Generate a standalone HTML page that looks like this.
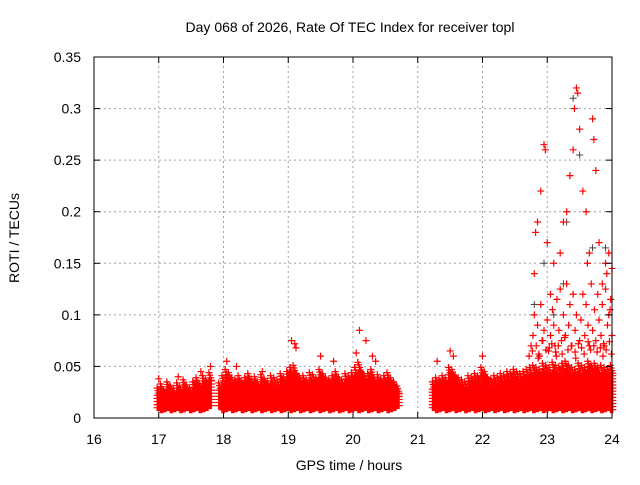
<!DOCTYPE html>
<html><head><meta charset="utf-8"><style>
body{margin:0;background:#fff}
svg text{font-family:"Liberation Sans",sans-serif;font-size:14px;fill:#000}
</style></head><body>
<svg id="c" width="640" height="480" xmlns="http://www.w3.org/2000/svg">
<text x="350" y="32" text-anchor="middle">Day 068 of 2026, Rate Of TEC Index for receiver topl</text>
<text x="349" y="470" text-anchor="middle">GPS time / hours</text>
<text transform="translate(19,238) rotate(-90)" text-anchor="middle">ROTI / TECUs</text>
<g id="grid"></g><g id="marks"></g><g id="axes"></g>
</svg>
<script>
const xTicks=[16,17,18,19,20,21,22,23,24];
const yTicks=[0,0.05,0.1,0.15,0.2,0.25,0.3,0.35];
const yTickLabels=["0","0.05","0.1","0.15","0.2","0.25","0.3","0.35"];
const bandT=[17.00,17.05,17.10,17.15,17.20,17.25,17.30,17.35,17.40,17.45,17.50,17.55,17.60,17.65,17.70,17.75,17.80,
17.95,18.00,18.05,18.10,18.15,18.20,18.25,18.30,18.35,18.40,18.45,18.50,18.55,18.60,18.65,18.70,18.75,18.80,18.85,18.90,18.95,19.00,19.05,19.10,19.15,19.20,19.25,19.30,19.35,19.40,19.45,19.50,19.55,19.60,19.65,19.70,19.75,19.80,19.85,19.90,19.95,20.00,20.05,20.10,20.15,20.20,20.25,20.30,20.35,20.40,20.45,20.50,20.55,20.60,20.65,20.70,
21.25,21.30,21.35,21.40,21.45,21.50,21.55,21.60,21.65,21.70,21.75,21.80,21.85,21.90,21.95,22.00,22.05,22.10,22.15,22.20,22.25,22.30,22.35,22.40,22.45,22.50,22.55,22.60,22.65,22.70,22.75,22.80,22.85,22.90,22.95,23.00,23.05,23.10,23.15,23.20,23.25,23.30,23.35,23.40,23.45,23.50,23.55,23.60,23.65,23.70,23.75,23.80,23.85,23.90,23.95,24.00];
const bandHi=[.030,.034,.028,.036,.032,.030,.035,.031,.038,.033,.030,.036,.040,.034,.042,.038,.045,
.035,.042,.048,.045,.040,.038,.042,.036,.040,.044,.038,.041,.036,.043,.039,.037,.042,.040,.038,.044,.040,.046,.050,.052,.044,.040,.042,.038,.045,.043,.040,.048,.044,.040,.038,.042,.046,.040,.038,.044,.041,.045,.050,.055,.046,.042,.044,.048,.040,.043,.038,.042,.045,.040,.036,.032,
.036,.040,.038,.042,.040,.050,.048,.042,.040,.038,.036,.042,.040,.044,.042,.050,.046,.040,.038,.042,.040,.044,.042,.046,.044,.048,.046,.044,.046,.048,.050,.052,.050,.048,.054,.052,.050,.055,.052,.050,.054,.056,.052,.050,.048,.054,.052,.050,.056,.052,.054,.050,.052,.050,.048,.052];
const bandLo=[.010,.008,.009,.010,.008,.009,.010,.008,.009,.010,.008,.009,.010,.008,.009,.010,.012,
.012,.008,.009,.010,.008,.009,.010,.008,.009,.010,.008,.009,.010,.008,.009,.010,.008,.009,.010,.008,.009,.010,.008,.009,.010,.008,.009,.010,.008,.009,.010,.008,.009,.010,.008,.009,.010,.008,.009,.010,.008,.009,.010,.008,.009,.010,.008,.009,.010,.008,.009,.010,.008,.009,.010,.012,
.010,.008,.009,.010,.008,.009,.010,.008,.009,.010,.008,.009,.010,.008,.009,.010,.008,.009,.010,.008,.009,.010,.008,.009,.010,.008,.009,.010,.008,.009,.010,.008,.009,.010,.008,.009,.010,.008,.009,.010,.008,.009,.010,.008,.009,.010,.008,.009,.010,.008,.009,.010,.008,.009,.010,.008];
const outT=[17.0,17.3,17.65,17.8,18.05,18.2,18.6,19.05,19.1,19.12,19.5,19.7,20.05,20.1,20.2,20.3,20.35,21.3,21.5,21.55,22.0,
22.8,22.82,22.85,22.9,22.95,22.97,23.0,23.05,23.1,23.2,23.25,23.3,23.35,23.4,23.42,23.45,23.47,23.5,23.55,23.6,23.65,23.7,23.72,23.75,23.8,23.85,23.9,23.95,24.0,
22.75,22.78,22.8,22.85,22.88,22.9,22.93,22.95,23.0,23.02,23.05,23.08,23.1,23.12,23.15,23.18,23.2,23.22,23.25,23.28,23.3,23.33,23.35,23.38,23.4,23.43,23.45,23.5,23.52,23.55,23.58,23.6,23.63,23.65,23.68,23.7,23.73,23.75,23.78,23.8,23.83,23.85,23.88,23.9,23.93,23.95,23.98,24.0,23.92,23.97,23.86,23.62,
22.72,22.77,22.83,22.87,22.92,22.98,23.03,23.07,23.13,23.17,23.23,23.27,23.32,23.37,23.43,23.48,23.53,23.57,23.63,23.67,23.72,23.77,23.82,23.87,23.91,23.96,23.99,23.44,23.14,22.86];
const outV=[.038,.040,.045,.050,.055,.050,.045,.075,.072,.068,.060,.055,.063,.085,.075,.060,.055,.055,.065,.060,.060,
.140,.180,.190,.220,.265,.260,.170,.120,.150,.160,.190,.200,.235,.260,.300,.320,.315,.280,.220,.200,.160,.290,.270,.240,.170,.130,.150,.160,.145,
.070,.080,.100,.090,.060,.110,.075,.085,.095,.065,.080,.105,.090,.070,.115,.085,.125,.075,.100,.080,.130,.090,.110,.070,.120,.085,.100,.075,.095,.120,.080,.110,.090,.070,.130,.085,.105,.075,.120,.095,.080,.110,.070,.125,.090,.100,.115,.080,.140,.105,.060,.150,
.060,.065,.070,.062,.075,.066,.068,.072,.064,.070,.062,.078,.066,.070,.064,.072,.068,.062,.074,.066,.070,.064,.068,.072,.066,.074,.062,.058,.060,.058];
const grayT=[23.4,23.35,23.5,22.95,23.3,23.7,23.9,22.8,23.1,23.25];
const grayV=[.310,.235,.255,.150,.190,.165,.165,.110,.100,.130];
const X0=94,X1=612,Y0=418,Y1=57;
const sx=t=>X0+(t-16)/(24-16)*(X1-X0);
const sy=v=>Y0-v/0.35*(Y0-Y1);
const NS="http://www.w3.org/2000/svg";
function el(tag,attrs,parent){const e=document.createElementNS(NS,tag);for(const k in attrs)e.setAttribute(k,attrs[k]);parent.appendChild(e);return e;}
const grid=document.getElementById('grid'),marks=document.getElementById('marks'),axes=document.getElementById('axes');
xTicks.forEach(t=>{const x=sx(t);
 if(t>16&&t<24){const g=el('line',{x1:x,x2:x,y1:Y0,y2:Y1,stroke:'#a0a0a0','stroke-dasharray':'2,3'},grid);
 
 }
 el('line',{x1:x,x2:x,y1:Y0,y2:Y0-6,stroke:'#000'},axes);
 el('line',{x1:x,x2:x,y1:Y1,y2:Y1+6,stroke:'#000'},axes);
 const tx=el('text',{x:x,y:Y0+26,'text-anchor':'middle'},axes);tx.textContent=t;
 
 });
yTicks.forEach((v,i)=>{const y=sy(v);
 if(v>0&&v<0.35){const g=el('line',{x1:X0,x2:X1,y1:y,y2:y,stroke:'#a0a0a0','stroke-dasharray':'2,3'},grid);
 
 }
 el('line',{x1:X0,x2:X0+6,y1:y,y2:y,stroke:'#000'},axes);
 el('line',{x1:X1,x2:X1-6,y1:y,y2:y,stroke:'#000'},axes);
 const tx=el('text',{x:X0-13,y:y+5,'text-anchor':'end'},axes);tx.textContent=yTickLabels[i];
 
 });
const frame=el('rect',{x:X0,y:Y1,width:X1-X0,height:Y0-Y1,fill:'none',stroke:'#000'},axes);


let d='';
const plus=(t,v)=>{const x=sx(t),y=sy(v);d+=`M${x-3.5},${y}h7M${x},${y-3.5}v7`;};
let gd='';
grayT.forEach((t,i)=>{const x=sx(t),y=sy(grayV[i]);gd+=`M${x-3.5},${y}h7M${x},${y-3.5}v7`;});
const gp=el('path',{d:gd,stroke:'#444',fill:'none','stroke-width':1},marks);


bandT.forEach((t,i)=>{for(const dt of [-0.025,-0.0125,0,0.0125]){for(let v=bandLo[i];v<=bandHi[i]-0.008;v+=0.003)plus(t+dt,v);plus(t+dt,bandHi[i]-(dt+0.03)*0.2);}});
outT.forEach((t,i)=>plus(t,outV[i]));
const rp=el('path',{d:d,stroke:'#ff0000',fill:'none','stroke-width':1.2},marks);


</script>
</body></html>
